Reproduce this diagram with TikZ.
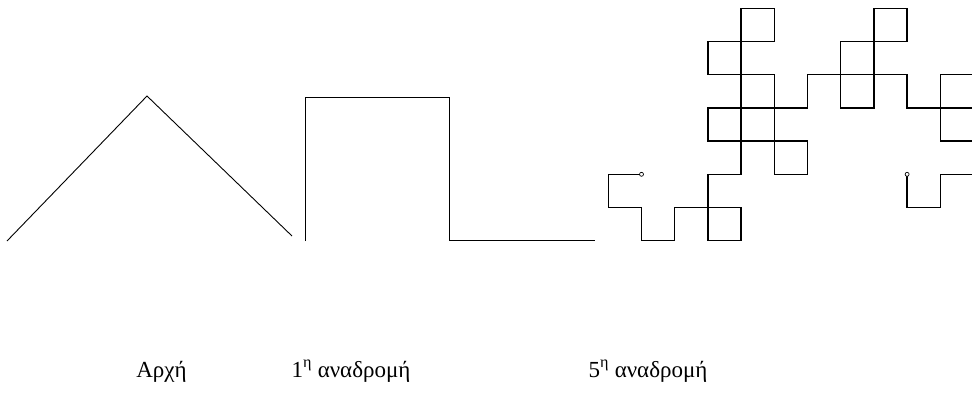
\documentclass[tikz,border=0pt]{standalone}
\usepackage{fontspec}
\setmainfont{Liberation Serif}
\begin{document}
\begin{tikzpicture}[x=1pt,y=-1pt,
    thinline/.style={line width=0.9pt, line join=miter},
    dragonline/.style={line width=1.5pt, line join=miter},
    endmark/.style={circle, draw, fill=white, line width=0.7pt, inner sep=0pt, minimum size=4pt},
    caption/.style={anchor=base, font=\fontsize{23}{26}\selectfont}]
  \useasboundingbox (0,0) rectangle (972,394);
  \fill[white] (0,0) rectangle (972,394);

  % initial shape: two segments at 45 degrees
  \draw[thinline] (7,241) -- (147,96) -- (292,236);

  % first recursion
  \draw[thinline] (305,241) -- (305,97.5) -- (449.5,97.5) -- (449.5,240.5) -- (595,240.5);

  % fifth recursion (dragon curve, 64 unit segments on a grid)
  \begin{scope}
    \clip (0,0) rectangle (972,394);
    \begin{scope}[shift={(608.3,8.3)}, x=33.2pt, y=-33.2pt]
      \draw[dragonline]
        (1,5) -- (0,5) -- (0,6) -- (1,6) -- (1,7) -- (2,7) -- (2,6) -- (3,6)
        -- (3,7) -- (4,7) -- (4,6) -- (3,6) -- (3,5) -- (4,5) -- (4,4) -- (5,4)
        -- (5,5) -- (6,5) -- (6,4) -- (5,4) -- (5,3) -- (4,3) -- (4,4) -- (3,4)
        -- (3,3) -- (4,3) -- (4,2) -- (3,2) -- (3,1) -- (4,1) -- (4,0) -- (5,0)
        -- (5,1) -- (4,1) -- (4,2) -- (5,2) -- (5,3) -- (6,3) -- (6,2) -- (7,2)
        -- (7,3) -- (8,3) -- (8,2) -- (7,2) -- (7,1) -- (8,1) -- (8,0) -- (9,0)
        -- (9,1) -- (8,1) -- (8,2) -- (9,2) -- (9,3) -- (10,3) -- (10,2) -- (11,2)
        -- (11,3) -- (10,3) -- (10,4) -- (11,4) -- (11,5) -- (10,5) -- (10,6) -- (9,6)
        -- (9,5);
      \node[endmark] (start) at (1,5) {};
      \node[endmark] (finish) at (9,5) {};
    \end{scope}
  \end{scope}

  % captions
  \node[caption] (cap0) at (161.5,377) {Αρχή};
  \node[caption] (cap1) at (351,377) {1\textsuperscript{η} αναδρομή};
  \node[caption] (cap5) at (648,377) {5\textsuperscript{η} αναδρομή};
\end{tikzpicture}
\end{document}
